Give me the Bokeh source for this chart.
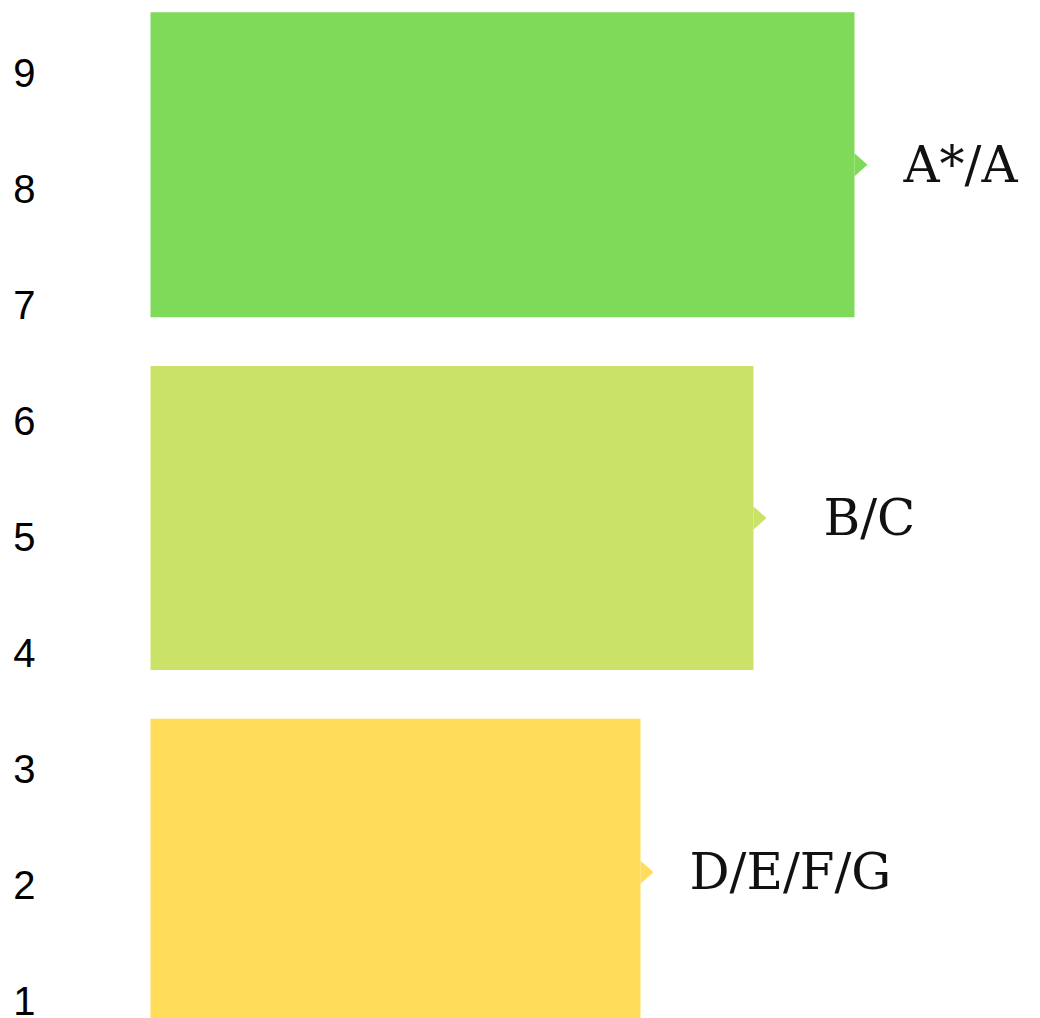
from bokeh.plotting import figure
from bokeh.models import Range1d, FixedTicker, ColumnDataSource
from bokeh.core.properties import value
from bokeh.embed import file_html
from bokeh.resources import INLINE

# ---- data ----
grades = ["D/E/F/G", "B/C", "A*/A"]
bar_length = [490, 603, 704]          # horizontal extent of each band
band_bottom = [0.78, 3.85, 6.89]      # on the 1-9 scale
band_top = [3.43, 6.47, 9.52]
colors = ["#FFDC5A", "#CBE268", "#80DA5A"]
scale_ticks = [1, 2, 3, 4, 5, 6, 7, 8, 9]

# ---- layout ----
label_gap = [49, 70, 49]
tip_w = 13          # x units (1 unit = 1 px)
tip_h = 0.099       # y units (half height)

p = figure(width=1040, height=1018, output_backend="svg", toolbar_location=None,
           x_range=Range1d(-105, 890), y_range=Range1d(0.845, 9.621),
           min_border_left=45, min_border_right=0, min_border_top=0, min_border_bottom=0,
           x_axis_location=None)
p.outline_line_color = None
p.grid.visible = False
p.background_fill_color = "white"
p.border_fill_color = "white"

src = ColumnDataSource(dict(left=[0] * 3, right=bar_length, bottom=band_bottom,
                            top=band_top, color=colors))
p.quad(left="left", right="right", bottom="bottom", top="top", color="color",
       line_color=None, source=src)

centers = [(b + t) / 2 for b, t in zip(band_bottom, band_top)]
xs = [[r, r + tip_w, r] for r in bar_length]
ys = [[c - tip_h, c, c + tip_h] for c in centers]
p.patches(xs=xs, ys=ys, fill_color=colors, line_color=None)

p.text(x=[r + g for r, g in zip(bar_length, label_gap)], y=centers, text=grades,
       text_font=value("DejaVu Serif"), text_font_size="50px", text_color="#111111",
       text_align="left", text_baseline="middle")

ax = p.yaxis[0]
ax.ticker = FixedTicker(ticks=scale_ticks)
ax.axis_line_color = None
ax.major_tick_line_color = None
ax.minor_tick_line_color = None
ax.major_tick_out = 0
ax.major_label_standoff = 10
ax.major_label_text_font = "Liberation Sans"
ax.major_label_text_font_size = "40px"
ax.major_label_text_color = "#000000"

open("out.html", "w").write(file_html(p, INLINE))
